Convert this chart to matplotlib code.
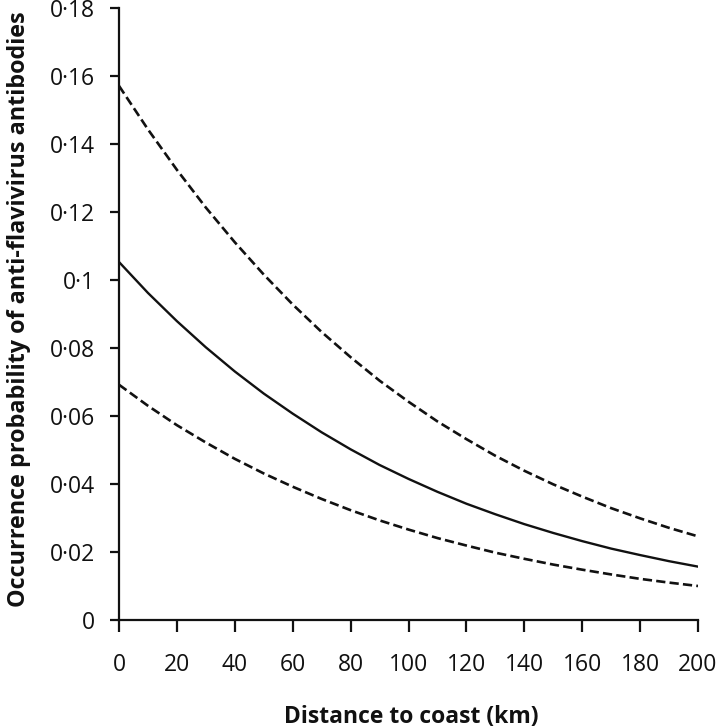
import matplotlib
matplotlib.use("Agg")
import matplotlib.pyplot as plt
from matplotlib.ticker import FuncFormatter

distance_km = [0, 10, 20, 30, 40, 50, 60, 70, 80, 90, 100,
               110, 120, 130, 140, 150, 160, 170, 180, 190, 200]
prob_mean = [0.1053, 0.0962, 0.0879, 0.0802, 0.0731, 0.0666, 0.0607, 0.0552,
             0.0502, 0.0456, 0.0415, 0.0377, 0.0342, 0.0311, 0.0282, 0.0256,
             0.0232, 0.0210, 0.0191, 0.0173, 0.0157]
prob_upper = [0.1571, 0.1443, 0.1324, 0.1213, 0.1111, 0.1016, 0.0928, 0.0847,
              0.0773, 0.0704, 0.0642, 0.0584, 0.0532, 0.0483, 0.0439, 0.0399,
              0.0363, 0.0329, 0.0299, 0.0271, 0.0246]
prob_lower = [0.0692, 0.0630, 0.0573, 0.0522, 0.0474, 0.0431, 0.0392, 0.0356,
              0.0323, 0.0293, 0.0266, 0.0241, 0.0219, 0.0198, 0.0180, 0.0163,
              0.0148, 0.0134, 0.0121, 0.0110, 0.0100]
x_ticks = list(range(0, 201, 20))
y_ticks = [0, 0.02, 0.04, 0.06, 0.08, 0.10, 0.12, 0.14, 0.16, 0.18]

plt.rcParams['font.family'] = ['Open Sans', 'DejaVu Sans']

W, H = 720, 728
fig = plt.figure(figsize=(W/100, H/100), dpi=100)
ax = fig.add_axes([119/W, 1-620/H, (698-119)/W, (620-8)/H])

col = '#111111'
ax.plot(distance_km, prob_upper, color=col, lw=1.9, ls=(0, (3.5, 1.6)))
ax.plot(distance_km, prob_mean, color=col, lw=1.7, ls='-')
ax.plot(distance_km, prob_lower, color=col, lw=1.9, ls=(0, (3.5, 1.6)))

ax.set_xlim(0, 200)
ax.set_ylim(0, 0.18)
ax.set_xticks(x_ticks)
ax.set_yticks(y_ticks)

def fmt(v, pos):
    if abs(v) < 1e-12:
        return '0'
    s = ('%.2f' % v).rstrip('0')
    return s.replace('.', '\u00b7')

ax.yaxis.set_major_formatter(FuncFormatter(fmt))
for s in ['top', 'right']:
    ax.spines[s].set_visible(False)
for s in ['left', 'bottom']:
    ax.spines[s].set_linewidth(1.6)
    ax.spines[s].set_color(col)
ax.tick_params(axis='y', direction='out', length=6.5, width=1.6, pad=11, labelsize=16.5, colors=col)
ax.tick_params(axis='x', direction='out', length=8.5, width=1.6, pad=15, labelsize=16.5, colors=col)

fig.text(411/W, 1-717/H, 'Distance to coast (km)', fontsize=16.5, fontweight='bold',
         color=col, ha='center', va='center')
fig.text(19/W, 1-309/H, 'Occurrence probability of anti-flavivirus antibodies', fontsize=16.8,
         fontweight='bold', color=col, ha='center', va='center', rotation=90)

fig.savefig('out.png', dpi=100)
